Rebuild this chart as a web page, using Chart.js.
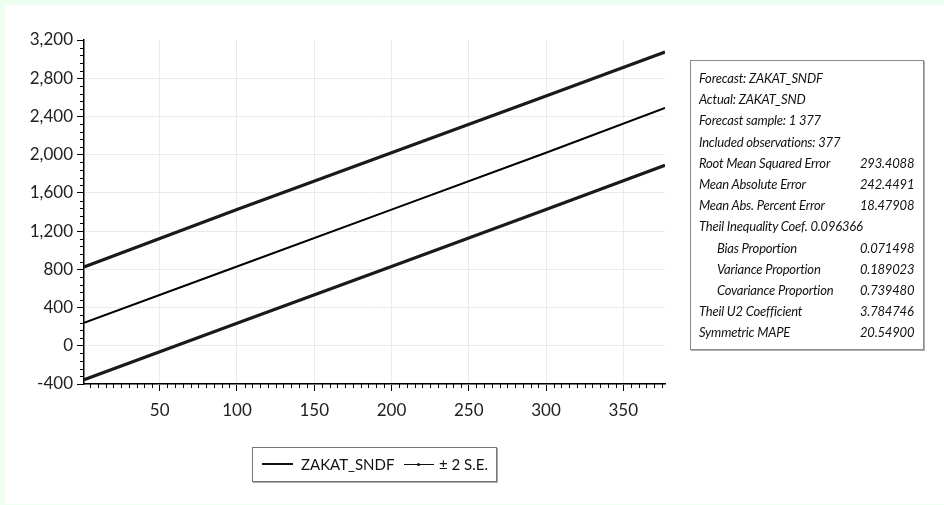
<!DOCTYPE html>
<html>
<head>
<meta charset="utf-8">
<script src="https://cdn.jsdelivr.net/npm/chart.js@4.4.0/dist/chart.umd.min.js"></script>
<style>
  html, body { margin:0; padding:0; }
  body { width:944px; height:505px; background:#ecfff0; position:relative; overflow:hidden; font-family: Lato, "Open Sans", sans-serif; }
  #panel { position:absolute; left:5px; top:5px; width:939px; height:499px; background:#fff; }
  #wrap { position:absolute; left:0; top:0; width:944px; height:505px; }
  #stats { position:absolute; left:690px; top:60px; width:234px; height:290px; border:1px solid #8a8a8a; box-shadow:1px 1px 0 #b0b0b0; background:#fff; box-sizing:border-box; padding:7px 0 0 8px; font-style:italic; font-size:13px; color:#111; letter-spacing:-0.2px; }
  #stats .row { height:21.2px; line-height:21.2px; white-space:nowrap; }
  #stats .lab { display:inline-block; width:161px; }
  #stats .ind { padding-left:18px; width:143px; }
  #legend { position:absolute; left:252px; top:447px; width:245px; height:35px; border:1px solid #777; box-shadow:1px 1px 0 #aaa; background:#fff; box-sizing:border-box; font-size:15px; color:#111; }
  #legend .item { position:absolute; top:0; height:33px; line-height:33px; white-space:nowrap; }
  .sw { position:absolute; top:16px; height:0; }
</style>
</head>
<body>
<div id="panel"></div>
<div id="wrap"><canvas id="c" width="944" height="505"></canvas></div>
<div id="stats"></div>
<div id="legend">
  <div class="sw" style="left:9px;width:31px;border-top:2.5px solid #111;top:15px;"></div>
  <div class="item" style="left:48px;">ZAKAT_SNDF</div>
  <div class="sw" style="left:151px;width:30px;border-top:1px solid #111;"></div>
  <div class="sw" style="left:164px;width:3px;height:3px;top:15px;background:#111;border-radius:50%;"></div>
  <div class="item" style="left:186px;">± 2 S.E.</div>
</div>
<script>
// ---- data ----
const obsX      = [1, 100, 200, 300, 377];
const forecast  = [240, 830, 1425, 2020, 2490];
const upperBand = [825, 1425, 2020, 2615, 3075];
const lowerBand = [-355, 235, 830, 1425, 1890];
const xTicks    = [50, 100, 150, 200, 250, 300, 350];
const yTicks    = [-400, 0, 400, 800, 1200, 1600, 2000, 2400, 2800, 3200];

const statLabels = ["Forecast: ZAKAT_SNDF","Actual: ZAKAT_SND","Forecast sample: 1 377","Included observations: 377",
  "Root Mean Squared Error","Mean Absolute Error","Mean Abs. Percent Error","Theil Inequality Coef.  0.096366",
  "Bias Proportion","Variance Proportion","Covariance Proportion","Theil U2 Coefficient","Symmetric MAPE"];
const statValues = ["","","","","293.4088","242.4491","18.47908","","0.071498","0.189023","0.739480","3.784746","20.54900"];
const statIndent = [0,0,0,0,0,0,0,0,1,1,1,0,0];

// stats box
const sb = document.getElementById('stats');
statLabels.forEach((l,i)=>{
  const r = document.createElement('div'); r.className='row';
  const a = document.createElement('span'); a.className = 'lab' + (statIndent[i] ? ' ind' : '');
  a.textContent = l; if(!statValues[i]) a.style.width='auto';
  r.appendChild(a);
  if (statValues[i]) { const b=document.createElement('span'); b.textContent=statValues[i]; r.appendChild(b); }
  sb.appendChild(r);
});

const toPts = ys => obsX.map((x,i)=>({x:x, y:ys[i]}));

const minorTicks = {
  id:'minorTicks',
  afterDraw(chart){
    const ctx = chart.ctx, xs = chart.scales.x, ys = chart.scales.y;
    const area = chart.chartArea;
    ctx.save(); ctx.strokeStyle='#000'; ctx.lineWidth=1;
    ctx.beginPath();
    for (let v=5; v<=375; v+=5){ if (v%50===0) continue;
      const px = Math.round(xs.getPixelForValue(v))+0.5;
      ctx.moveTo(px, area.bottom); ctx.lineTo(px, area.bottom+4); }
    for (let v=-400; v<=3200; v+=80){ if (v%400===0) continue;
      const py = Math.round(ys.getPixelForValue(v))+0.5;
      ctx.moveTo(area.left, py); ctx.lineTo(area.left-4, py); }
    ctx.stroke(); ctx.restore();
  }
};

new Chart(document.getElementById('c'), {
  type:'line',
  data:{ datasets:[
    { label:'±2 S.E. upper', data:toPts(upperBand), borderColor:'#1a1a1a', borderWidth:3.2, pointRadius:0, tension:0 },
    { label:'ZAKAT_SNDF', data:toPts(forecast), borderColor:'#000', borderWidth:2, pointRadius:0, tension:0 },
    { label:'±2 S.E. lower', data:toPts(lowerBand), borderColor:'#1a1a1a', borderWidth:3.2, pointRadius:0, tension:0 }
  ]},
  options:{
    responsive:false, animation:false, events:[],
    layout:{ padding:{ top:40, right:279, left:0, bottom:0 } },
    plugins:{ legend:{display:false}, tooltip:{enabled:false} },
    scales:{
      x:{ type:'linear', min:1, max:377,
        afterBuildTicks: s => { s.ticks = xTicks.map(v=>({value:v})); },
        afterFit: s => { s.height = 121; },
        border:{ color:'#000', width:1.5 },
        grid:{ color:'#ebebeb', lineWidth:1, tickColor:'#000', tickLength:7 },
        ticks:{ color:'#222', font:{ family:'Lato', size:17 }, padding:9, maxRotation:0 } },
      y:{ type:'linear', min:-400, max:3200,
        afterBuildTicks: s => { s.ticks = yTicks.map(v=>({value:v})); },
        afterFit: s => { s.width = 84; },
        border:{ color:'#000', width:1.5 },
        grid:{ color: c => (c.tick && c.tick.value===3200) ? 'rgba(0,0,0,0)' : '#ebebeb', lineWidth:1, tickColor:'#000', tickLength:7 },
        ticks:{ color:'#222', font:{ family:'Lato', size:17 }, padding:4,
          callback: v => v.toLocaleString('en-US') } }
    }
  },
  plugins:[minorTicks]
});
</script>
</body>
</html>
